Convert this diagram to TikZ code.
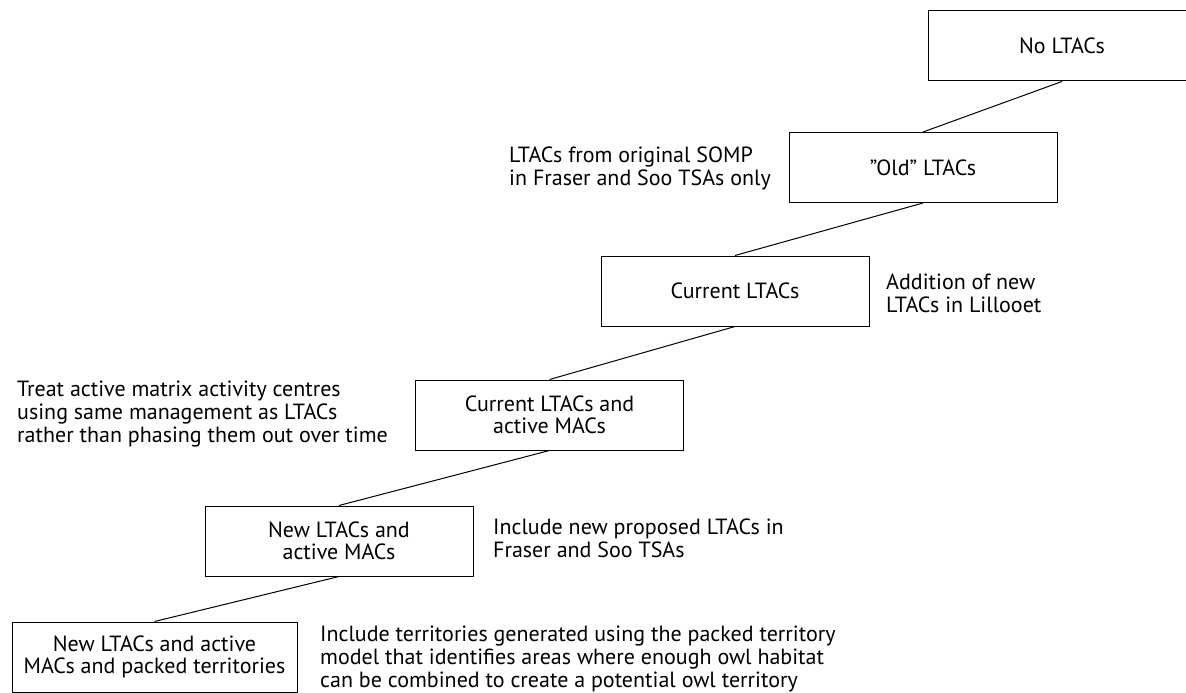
\documentclass[tikz,border=0pt]{standalone}
\usepackage{fontspec}
\setmainfont{PT Sans}
\begin{document}
\begin{tikzpicture}[x=1pt,y=-1pt,
  stagebox/.style={draw=black,line width=1pt,rectangle,minimum width=268pt,minimum height=70pt,inner sep=0pt,align=center,font=\fontsize{22}{22}\selectfont},
  note/.style={inner sep=0pt,align=left,font=\fontsize{22}{23}\selectfont},
  link/.style={draw=black,line width=1pt}]
\clip (0,0) rectangle (1186,693);
\fill[white] (0,0) rectangle (1186,693);
\node[stagebox] (b1) at (1062,46) {No LTACs};
\node[stagebox] (b2) at (923,167.5) {\symbol{34}Old\symbol{34} LTACs};
\node[stagebox] (b3) at (735,291) {Current LTACs};
\node[stagebox] (b4) at (549.5,415) {Current LTACs and\\active MACs};
\node[stagebox] (b5) at (339,541) {New LTACs and\\active MACs};
\node[stagebox,minimum width=285pt] (b6) at (154.5,657) {New LTACs and active\\MACs and packed territories};
\draw[link] (b1.south) -- (b2.north);
\draw[link] (b2.south) -- (b3.north);
\draw[link] (b3.south) -- (b4.north);
\draw[link] (b4.south) -- (b5.north);
\draw[link] (b5.south) -- (b6.north);
\node[note,anchor=west] (t1) at (509,168) {LTACs from original SOMP\\in Fraser and Soo TSAs only};
\node[note,anchor=west] (t2) at (886,293) {Addition of new\\LTACs in Lillooet};
\node[note,anchor=west] (t3) at (17,414) {Treat active matrix activity centres\\using same management as LTACs\\rather than phasing them out over time};
\node[note,anchor=west] (t4) at (493,538) {Include new proposed LTACs in\\Fraser and Soo TSAs};
\node[note,anchor=west] (t5) at (320,659) {Include territories generated using the packed territory\\model that identifies areas where enough owl habitat\\can be combined to create a potential owl territory};
\end{tikzpicture}
\end{document}
